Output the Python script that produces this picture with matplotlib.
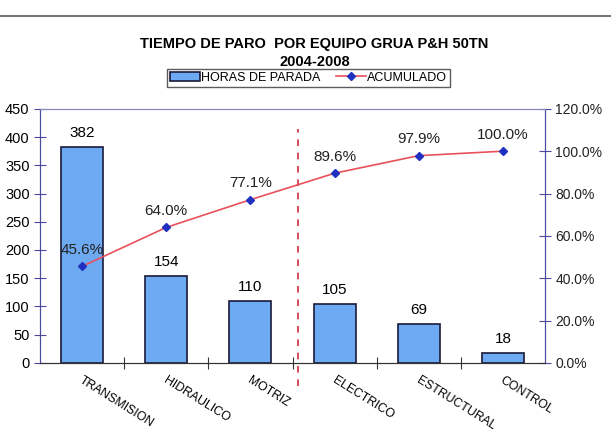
import matplotlib
matplotlib.use("Agg")
from matplotlib import pyplot as plt
from matplotlib.lines import Line2D

plt.rcParams['font.family'] = ['Liberation Sans', 'DejaVu Sans']

# Data
equipos = ["TRANSMISION", "HIDRAULICO", "MOTRIZ", "ELECTRICO", "ESTRUCTURAL", "CONTROL"]
horas = [382, 154, 110, 105, 69, 18]
acumulado = [45.6, 64.0, 77.1, 89.6, 97.9, 100.0]

fig = plt.figure(figsize=(6.11, 4.32), dpi=100)
ax = fig.add_axes([0.0655, 0.16, 0.8265, 0.588])
ax2 = ax.twinx()

x = list(range(len(equipos)))
bars = ax.bar(x, horas, width=0.5, color="#6eaaf2", edgecolor="#1a1a3a",
              linewidth=1.2, label="HORAS DE PARADA", zorder=2)
for xi, h in zip(x, horas):
    ax.text(xi, h + 12, str(h), ha="center", va="bottom", fontsize=11)

ax.set_xlim(-0.5, len(equipos) - 0.5)
ax.set_ylim(0, 450)
ax.set_yticks(range(0, 451, 50))
ax.tick_params(axis="y", direction="inout", length=8, labelsize=10.5, colors="#4a4aa0", labelcolor="black")
ax.set_xticks([i + 0.5 for i in x[:-1]])
ax.set_xticklabels([])
ax.tick_params(axis="x", direction="inout", length=8, colors="#333333")

# rotated category labels under each bar
for xi, name in zip(x, equipos):
    ax.text(xi + 0.02, -21, name, rotation=-32, ha="left", va="top",
            rotation_mode="anchor", fontsize=8.8)

line, = ax2.plot(x, acumulado, color="#e8505a", linewidth=1.2, marker="D",
                 markersize=4.5, markerfacecolor="#2030c0", markeredgecolor="#2030c0",
                 label="ACUMULADO", zorder=3)
for xi, p in zip(x, acumulado):
    ax2.text(xi, p + 4.5, f"{p:.1f}%", ha="center", va="bottom", fontsize=11,
             color="#222222")
ax2.set_ylim(0, 120)
ax2.set_yticks(range(0, 121, 20))
ax2.set_yticklabels([f"{v:.1f}%" for v in range(0, 121, 20)])
ax2.tick_params(axis="y", direction="inout", length=8, labelsize=10, colors="#4a4aa0", labelcolor="#222222")

ax2.axvline(2.56, color="#d03040", linestyle=(0, (4, 4)), linewidth=1.2,
            ymin=-0.09, ymax=0.92, clip_on=False)

for a in (ax, ax2):
    a.spines["left"].set_color("#4a4aa0")
    a.spines["right"].set_color("#4a4aa0")
    a.spines["top"].set_color("#8888c0")
    a.spines["bottom"].set_color("#333333")

fig.text(0.515, 0.898, "TIEMPO DE PARO  POR EQUIPO GRUA P&H 50TN", ha="center",
         va="center", fontsize=10.5, fontweight="bold")
fig.text(0.515, 0.857, "2004-2008", ha="center", va="center", fontsize=10.5,
         fontweight="bold")

leg = fig.legend([bars, line], ["HORAS DE PARADA", "ACUMULADO"], loc="center",
                 bbox_to_anchor=(0.505, 0.82), ncol=2, frameon=True,
                 fancybox=False, edgecolor="#333333", handlelength=2.4,
                 handletextpad=0.1, columnspacing=1.2, borderpad=0.25,
                 prop={"size": 9})

fig.add_artist(Line2D([0, 1], [0.963, 0.963], color="#777777", linewidth=1.5))

fig.savefig("out.png", dpi=100)
